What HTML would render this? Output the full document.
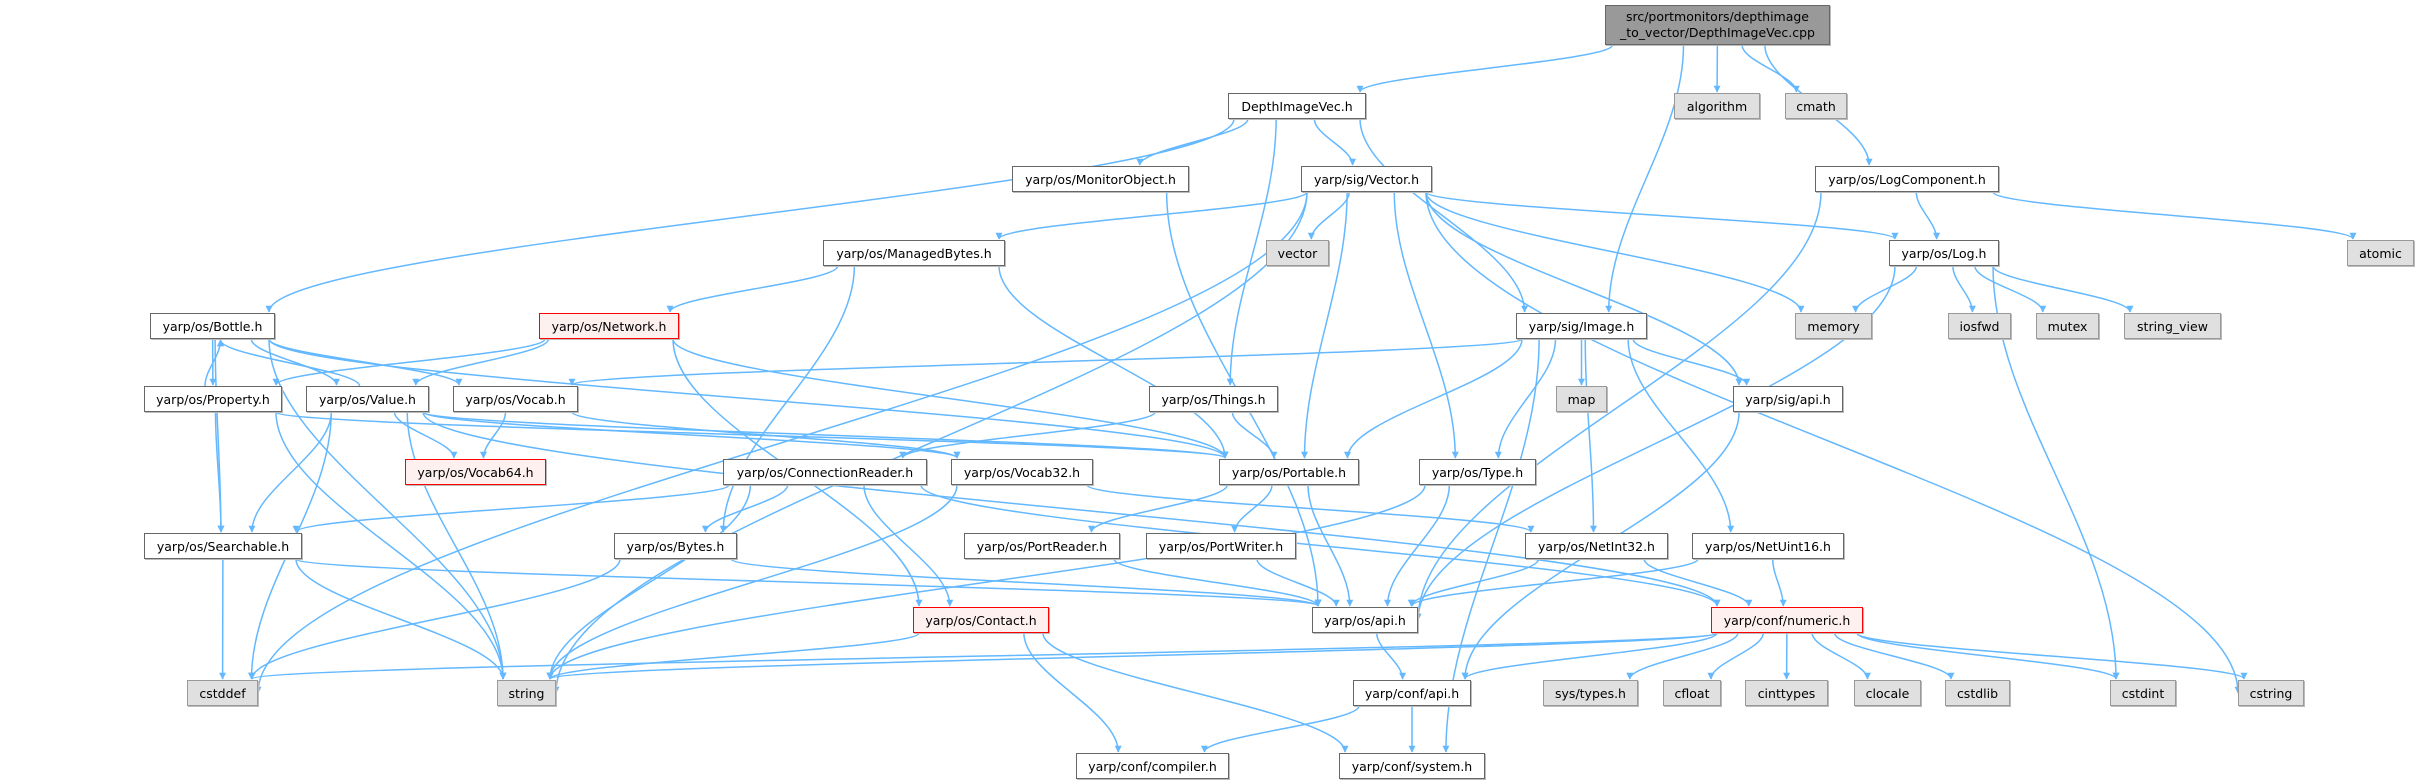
<!DOCTYPE html>
<html><head><meta charset="utf-8"><style>
body{margin:0;background:#fff;width:2419px;height:784px;overflow:hidden;position:relative;font-family:"DejaVu Sans","Liberation Sans",sans-serif}
.n{position:absolute;box-sizing:border-box;border:1.5px solid #666;background:#fff;font-size:12.5px;color:#000;display:flex;align-items:center;justify-content:center;white-space:nowrap;box-shadow:1px 1px 0 #bbb}
.g{background:#e0e0e0;border-color:#999}
.r{background:#fff0f0;border-color:#f00}
.root{background:#999;border-color:#666;flex-direction:column;line-height:16px}
svg{position:absolute;left:0;top:0}
</style></head><body>
<svg id="s" width="2419" height="784"><defs><marker id="a" viewBox="0 0 10 10" refX="9" refY="5" markerWidth="7" markerHeight="7" orient="auto" markerUnits="userSpaceOnUse"><path d="M0,0L10,5L0,10z" fill="#63b8ff"/></marker></defs><g id="e" fill="none" stroke="#63b8ff" stroke-width="1.5"></g></svg>
<div id="nodes"></div>
<div class="n root" style="left:1605px;top:5px;width:225px;height:40px"><span>src/portmonitors/depthimage</span><span>_to_vector/DepthImageVec.cpp</span></div>
<div class="n" style="left:1228px;top:93px;width:138px;height:26px">DepthImageVec.h</div>
<div class="n g" style="left:1674px;top:93px;width:86px;height:26px">algorithm</div>
<div class="n g" style="left:1785px;top:93px;width:62px;height:26px">cmath</div>
<div class="n" style="left:1301px;top:166px;width:131px;height:26px">yarp/sig/Vector.h</div>
<div class="n" style="left:1815px;top:166px;width:184px;height:26px">yarp/os/LogComponent.h</div>
<div class="n" style="left:1012px;top:166px;width:177px;height:26px">yarp/os/MonitorObject.h</div>
<div class="n g" style="left:1266px;top:240px;width:63px;height:26px">vector</div>
<div class="n" style="left:1889px;top:240px;width:110px;height:26px">yarp/os/Log.h</div>
<div class="n g" style="left:2347px;top:240px;width:67px;height:26px">atomic</div>
<div class="n" style="left:823px;top:240px;width:182px;height:26px">yarp/os/ManagedBytes.h</div>
<div class="n" style="left:150px;top:313px;width:125px;height:26px">yarp/os/Bottle.h</div>
<div class="n r" style="left:539px;top:313px;width:140px;height:26px">yarp/os/Network.h</div>
<div class="n" style="left:1516px;top:313px;width:131px;height:26px">yarp/sig/Image.h</div>
<div class="n g" style="left:1795px;top:313px;width:77px;height:26px">memory</div>
<div class="n g" style="left:1948px;top:313px;width:63px;height:26px">iosfwd</div>
<div class="n g" style="left:2036px;top:313px;width:63px;height:26px">mutex</div>
<div class="n g" style="left:2124px;top:313px;width:97px;height:26px">string_view</div>
<div class="n" style="left:144px;top:386px;width:138px;height:26px">yarp/os/Property.h</div>
<div class="n" style="left:306px;top:386px;width:123px;height:26px">yarp/os/Value.h</div>
<div class="n" style="left:453px;top:386px;width:125px;height:26px">yarp/os/Vocab.h</div>
<div class="n" style="left:1149px;top:386px;width:129px;height:26px">yarp/os/Things.h</div>
<div class="n g" style="left:1556px;top:386px;width:51px;height:26px">map</div>
<div class="n" style="left:1733px;top:386px;width:110px;height:26px">yarp/sig/api.h</div>
<div class="n r" style="left:405px;top:459px;width:141px;height:26px">yarp/os/Vocab64.h</div>
<div class="n" style="left:723px;top:459px;width:204px;height:26px">yarp/os/ConnectionReader.h</div>
<div class="n" style="left:951px;top:459px;width:142px;height:26px">yarp/os/Vocab32.h</div>
<div class="n" style="left:1219px;top:459px;width:140px;height:26px">yarp/os/Portable.h</div>
<div class="n" style="left:1419px;top:459px;width:117px;height:26px">yarp/os/Type.h</div>
<div class="n" style="left:144px;top:533px;width:158px;height:26px">yarp/os/Searchable.h</div>
<div class="n" style="left:614px;top:533px;width:123px;height:26px">yarp/os/Bytes.h</div>
<div class="n" style="left:964px;top:533px;width:156px;height:26px">yarp/os/PortReader.h</div>
<div class="n" style="left:1146px;top:533px;width:150px;height:26px">yarp/os/PortWriter.h</div>
<div class="n" style="left:1525px;top:533px;width:143px;height:26px">yarp/os/NetInt32.h</div>
<div class="n" style="left:1692px;top:533px;width:152px;height:26px">yarp/os/NetUint16.h</div>
<div class="n r" style="left:913px;top:607px;width:136px;height:26px">yarp/os/Contact.h</div>
<div class="n" style="left:1312px;top:607px;width:106px;height:26px">yarp/os/api.h</div>
<div class="n r" style="left:1711px;top:607px;width:152px;height:26px">yarp/conf/numeric.h</div>
<div class="n g" style="left:187px;top:680px;width:71px;height:26px">cstddef</div>
<div class="n g" style="left:497px;top:680px;width:59px;height:26px">string</div>
<div class="n" style="left:1353px;top:680px;width:118px;height:26px">yarp/conf/api.h</div>
<div class="n g" style="left:1543px;top:680px;width:95px;height:26px">sys/types.h</div>
<div class="n g" style="left:1663px;top:680px;width:58px;height:26px">cfloat</div>
<div class="n g" style="left:1745px;top:680px;width:83px;height:26px">cinttypes</div>
<div class="n g" style="left:1854px;top:680px;width:67px;height:26px">clocale</div>
<div class="n g" style="left:1945px;top:680px;width:65px;height:26px">cstdlib</div>
<div class="n g" style="left:2110px;top:680px;width:66px;height:26px">cstdint</div>
<div class="n g" style="left:2238px;top:680px;width:66px;height:26px">cstring</div>
<div class="n" style="left:1076px;top:753px;width:153px;height:26px">yarp/conf/compiler.h</div>
<div class="n" style="left:1339px;top:753px;width:146px;height:26px">yarp/conf/system.h</div>
<script>
var N={root:[1605,5,1830,45],div:[1228,93,1366,119],alg:[1674,93,1760,119],cmath:[1785,93,1847,119],
vec:[1301,166,1432,192],logc:[1815,166,1999,192],mon:[1012,166,1189,192],vector:[1266,240,1329,266],
log:[1889,240,1999,266],atomic:[2347,240,2414,266],mb:[823,240,1005,266],bottle:[150,313,275,339],
net:[539,313,679,339],img:[1516,313,1647,339],mem:[1795,313,1872,339],iosfwd:[1948,313,2011,339],
mutex:[2036,313,2099,339],sv:[2124,313,2221,339],prop:[144,386,282,412],val:[306,386,429,412],
voc:[453,386,578,412],things:[1149,386,1278,412],map:[1556,386,1607,412],sapi:[1733,386,1843,412],
v64:[405,459,546,485],cr:[723,459,927,485],v32:[951,459,1093,485],port:[1219,459,1359,485],
type:[1419,459,1536,485],srch:[144,533,302,559],bytes:[614,533,737,559],pr:[964,533,1120,559],
pw:[1146,533,1296,559],ni32:[1525,533,1668,559],nu16:[1692,533,1844,559],contact:[913,607,1049,633],
osapi:[1312,607,1418,633],num:[1711,607,1863,633],cstddef:[187,680,258,706],string:[497,680,556,706],
capi:[1353,680,1471,706],st:[1543,680,1638,706],cfloat:[1663,680,1721,706],cint:[1745,680,1828,706],
cloc:[1854,680,1921,706],cstdlib:[1945,680,2010,706],cstdint:[2110,680,2176,706],cstring:[2238,680,2304,706],
comp:[1076,753,1229,779],sys:[1339,753,1485,779]};
var E="root>div root>img root>alg root>cmath root>logc div>bottle div>mon div>vec div>things div>img "+
"vec>vector vec>mb vec>string vec>cstddef vec>port vec>type vec>log vec>mem vec>sapi vec>cstring "+
"mon>osapi logc>log logc>atomic logc>osapi log>mem log>iosfwd log>mutex log>sv log>cstdint log>osapi "+
"mb>net mb>bytes mb>port net>prop net>val net>port net>contact bottle>prop bottle>val bottle>voc bottle>srch bottle>string bottle>port "+
"prop>bottle prop>srch prop>string prop>port val>bottle val>v64 val>srch val>string val>cstddef val>port val>v32 val>num voc>v64 voc>v32 "+
"img>voc img>port img>type img>map img>sapi img>ni32 img>nu16 img>sys things>cr things>port "+
"cr>srch cr>bytes cr>string cr>contact cr>num v32>string v32>ni32 port>pr port>pw port>osapi type>osapi type>string "+
"srch>cstddef srch>string srch>osapi bytes>cstddef bytes>osapi pr>osapi pw>osapi ni32>osapi ni32>num nu16>osapi nu16>num "+
"contact>string contact>comp contact>sys osapi>capi sapi>capi num>string num>cstddef num>capi num>st num>cfloat num>cint num>cloc num>cstdlib num>cstdint num>cstring capi>comp capi>sys";
var g=document.getElementById('e'),h='';
E.split(' ').forEach(function(p){var q=p.split('>'),a=N[q[0]],b=N[q[1]];
var ac=(a[0]+a[2])/2,bc=(b[0]+b[2])/2,sx,sy,tx,ty;
if(b[3]<=a[1]){sx=ac-8;sy=a[1];tx=bc+8;ty=b[3]+1;}
else if(b[1]-a[3]<10&&Math.abs(b[1]-a[1])<10){sx=a[2];sy=(a[1]+a[3])/2;tx=b[0];ty=(b[1]+b[3])/2;}
else{var w=a[2]-a[0],w2=b[2]-b[0];
sx=Math.max(a[0]+6,Math.min(a[2]-6,ac+(bc-ac)*0.25));sy=a[3];
tx=Math.max(b[0]+6,Math.min(b[2]-6,bc+(ac-bc)*0.2));ty=b[1]-1;
if(b[1]-a[3]>200 && Math.abs(bc-ac)>500){tx=(bc<ac)?b[2]:b[0];ty=(b[1]+b[3])/2;}}
var dy=(ty-sy);
h+='<path marker-end="url(#a)" d="M'+sx+','+sy+' C'+sx+','+(sy+dy*0.35)+' '+tx+','+(ty-dy*0.35)+' '+tx+','+ty+'"/>';});
g.innerHTML=h;
</script>
</body></html>
